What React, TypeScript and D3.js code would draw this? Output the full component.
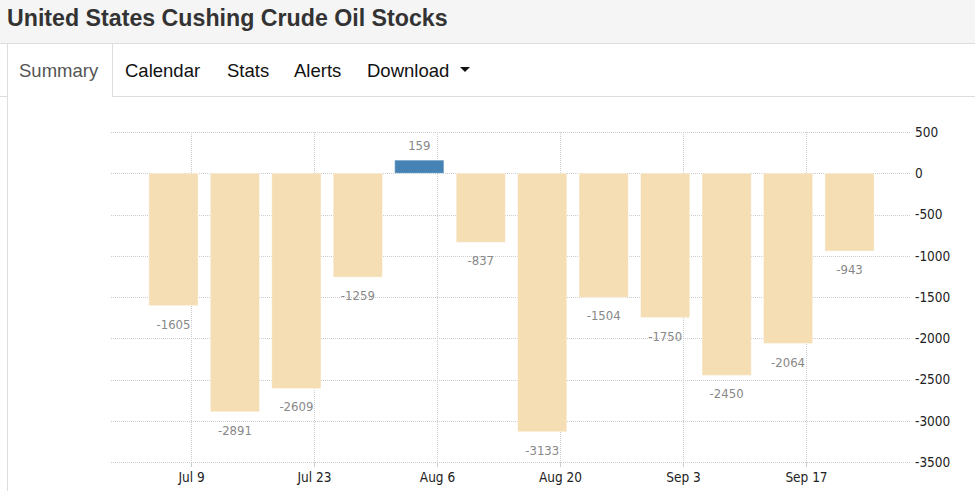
import React from "react";
import * as d3 from "d3";

const title = "United States Cushing Crude Oil Stocks";
const tabs = ["Summary", "Calendar", "Stats", "Alerts", "Download"];
const tabX = [19, 125, 227, 294, 367];

const dates = [
  "2023-07-07", "2023-07-14", "2023-07-21", "2023-07-28", "2023-08-04", "2023-08-11",
  "2023-08-18", "2023-08-25", "2023-09-01", "2023-09-08", "2023-09-15", "2023-09-22",
];
const values = [-1605, -2891, -2609, -1259, 159, -837, -3133, -1504, -1750, -2450, -2064, -943];
const xTickDates = ["2023-07-09", "2023-07-23", "2023-08-06", "2023-08-20", "2023-09-03", "2023-09-17"];
const xTickLabels = ["Jul 9", "Jul 23", "Aug 6", "Aug 20", "Sep 3", "Sep 17"];
const yTicks = [500, 0, -500, -1000, -1500, -2000, -2500, -3000, -3500];

const W = 975;
const H = 491;

export default function App() {
  const parse = d3.utcParse("%Y-%m-%d");
  const x = d3
    .scaleUtc()
    .domain([parse("2023-06-30")!, parse("2023-09-29")!])
    .range([112, 911]);
  const y = d3.scaleLinear().domain([-3500, 500]).range([462, 132]);
  const step = x(parse("2023-07-14")!) - x(parse("2023-07-07")!);
  const bw = step * 0.8;
  const font = "'DejaVu Sans Condensed', 'DejaVu Sans', sans-serif";
  const sans = "'Liberation Sans', Arial, sans-serif";

  return (
    <svg
      width={W}
      height={H}
      style={{ position: "fixed", left: 0, top: 0, background: "#fff" }}
    >
      {/* header */}
      <rect x={0} y={0} width={W} height={43} fill="#f5f5f5" />
      <line x1={0} x2={W} y1={43.5} y2={43.5} stroke="#ddd" />
      <text x={7} y={26} fontFamily={sans} fontWeight="bold" fontSize={23.2} fill="#333">
        {title}
      </text>
      {/* tabs */}
      <line x1={0} x2={7} y1={96.5} y2={96.5} stroke="#ddd" />
      <line x1={112} x2={W} y1={96.5} y2={96.5} stroke="#ddd" />
      <line x1={7.5} x2={7.5} y1={43} y2={H} stroke="#ddd" />
      <line x1={112.5} x2={112.5} y1={43} y2={96} stroke="#ddd" />
      {tabs.map((t, i) => (
        <text
          key={t}
          x={tabX[i]}
          y={76.5}
          fontFamily={sans}
          fontSize={18.5}
          fill={i === 0 ? "#555" : "#111"}
        >
          {t}
        </text>
      ))}
      <path d="M460,67 L470,67 L465,72 Z" fill="#111" />

      {/* horizontal grid */}
      {yTicks.map((t) => (
        <g key={t}>
          <line
            x1={111}
            x2={910}
            y1={Math.round(y(t)) + 0.5}
            y2={Math.round(y(t)) + 0.5}
            stroke="#ccc"
            strokeDasharray="1,1"
          />
          <text
            x={915}
            y={y(t)}
            dy="0.36em"
            fontFamily={font}
            fontSize={13.5}
            fill="#222"
          >
            {t}
          </text>
        </g>
      ))}
      {/* vertical grid */}
      {xTickDates.map((d, i) => {
        const xx = Math.round(x(parse(d)!)) + 0.5;
        return (
          <g key={d}>
            <line x1={xx} x2={xx} y1={132} y2={462} stroke="#ccc" strokeDasharray="1,1" />
            <line x1={xx} x2={xx} y1={462} y2={467} stroke="#ccc" />
            <text
              x={xx}
              y={482}
              textAnchor="middle"
              fontFamily={font}
              fontSize={13.5}
              fill="#222"
            >
              {xTickLabels[i]}
            </text>
          </g>
        );
      })}
      {/* bars */}
      {values.map((v, i) => {
        const cx = x(parse(dates[i])!);
        const top = y(Math.max(0, v));
        const bot = y(Math.min(0, v));
        return (
          <g key={dates[i]}>
            <rect
              x={cx - bw / 2}
              y={top}
              width={bw}
              height={bot - top}
              fill={v >= 0 ? "#4682B4" : "#F5DEB3"}
              stroke="rgba(255,255,255,0.4)"
            />
            <text
              x={cx}
              y={v >= 0 ? top - 10 : bot + 23}
              textAnchor="middle"
              fontFamily={font}
              fontSize={13}
              fill="#888"
            >
              {v}
            </text>
          </g>
        );
      })}
    </svg>
  );
}
